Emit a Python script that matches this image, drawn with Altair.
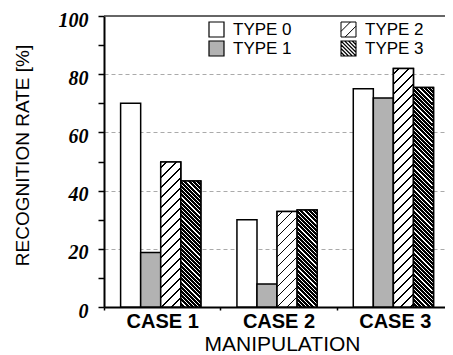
import altair as alt
import pandas as pd

# ---- data ----
cases = ["CASE 1", "CASE 2", "CASE 3"]
types = ["TYPE 0", "TYPE 1", "TYPE 2", "TYPE 3"]
type0 = [70.0, 30.0, 75.0]
type1 = [18.7, 7.9, 71.8]
type2 = [49.8, 32.8, 82.0]
type3 = [43.3, 33.3, 75.4]
y_ticks = [0, 10, 20, 30, 40, 50, 60, 70, 80, 90, 100]
frame_top = [100]

rows = []
for name, vals in zip(types, [type0, type1, type2, type3]):
    for c, v in zip(cases, vals):
        rows.append({"case": c, "type": name, "rate": v})
df = pd.DataFrame(rows)
top_df = pd.DataFrame({"v": frame_top})

# ---- layout / style ----
W, H = 349, 291
BAR_W = 20.0
GRAY = "#b2b2b2"
SYM = 15.0


def stripe_stops(period, lw, span, phase):
    stops = [{"offset": 0, "color": "white"}]
    pos = phase
    while pos < span:
        a = round(max(pos, 0) / span, 5)
        b = round(min((pos + lw) / span, 1.0), 5)
        stops += [{"offset": a, "color": "white"}, {"offset": a, "color": "black"},
                  {"offset": b, "color": "black"}, {"offset": b, "color": "white"}]
        pos += period
    return stops


def hatch(w, h, period, lw, direction, phase=None):
    """linear gradient (bounding-box units) that draws 45-degree stripes"""
    s = w + h
    c = s / (w * w + h * h)
    if phase is None:
        phase = period / 2
    if direction == "/":
        x1, y1, x2, y2 = 0, 0, c * w, c * h
    else:
        x1, y1, x2, y2 = 0, 1, c * w, 1 - c * h
    return {"gradient": "linear", "x1": round(x1, 5), "y1": round(y1, 5),
            "x2": round(x2, 5), "y2": round(y2, 5),
            "stops": stripe_stops(period, lw, s, phase)}


def hatch_symbol(offsets, direction):
    """square symbol path (unit coords) with diagonal hatch strokes"""
    p = "M-1,-1H1V1H-1Z"
    for k in offsets:
        if direction == "/":
            if k <= 0:
                a, b = (-1, k + 1), (k + 1, -1)
            else:
                a, b = (k - 1, 1), (1, k - 1)
        else:
            if k <= 0:
                a, b = (-1, -1 - k), (1 + k, 1)
            else:
                a, b = (k - 1, -1), (1, 1 - k)
        p += "M%.3f,%.3fL%.3f,%.3f" % (a[0], a[1], b[0], b[1])
    return p


SQUARE = "M-1,-1H1V1H-1Z"
SYM2 = hatch_symbol([-0.75, 0.55], "/")
SYM3 = hatch_symbol([-1.5, -1.0, -0.5, 0.0, 0.5, 1.0, 1.5], "\\")

P2, L2 = 10.0, 1.3
P3, L3 = 4.2, 3.0

x_axis = alt.Axis(title="MANIPULATION", labelAngle=0,
                  labelFont="Liberation Sans", labelFontWeight="bold",
                  labelFontSize=20, labelColor="black", labelPadding=1,
                  tickBand="extent", tickSize=3, tickColor="black", tickWidth=1.5,
                  domainColor="black", domainWidth=2,
                  titleFont="Liberation Sans", titleFontWeight="normal",
                  titleFontSize=21, titleColor="black",
                  titleBaseline="alphabetic", titleY=43.5, titleX=178)
y_axis = alt.Axis(title="RECOGNITION RATE [%]", values=y_ticks,
                  labelExpr="datum.value % 20 == 0 ? datum.label : ''",
                  labelFont="Liberation Serif", labelFontStyle="italic",
                  labelFontWeight="bold", labelFontSize=20, labelColor="black",
                  labelPadding=10, labelOffset=4,
                  tickSize=6, tickColor="black", tickWidth=1.5,
                  domainColor="black", domainWidth=2,
                  grid=True, gridDash=[4, 3], gridColor="#aaaaaa", gridWidth=1,
                  gridOpacity={"condition": {"test": "datum.value % 20 == 0 && datum.value > 0 && datum.value < 100", "value": 1}, "value": 0},
                  titleFont="Liberation Sans", titleFontWeight="normal",
                  titleFontSize=19, titleColor="black", titleAngle=270,
                  titleAlign="center", titleBaseline="middle",
                  titleX=-82, titleY=139)

X = alt.X("case:N", sort=cases,
          scale=alt.Scale(domain=cases, paddingInner=0, paddingOuter=0),
          axis=x_axis)
XO = alt.XOffset("type:N", sort=types,
                 scale=alt.Scale(domain=types, paddingOuter=0.9, paddingInner=0, align=0.46))
Y = alt.Y("rate:Q", scale=alt.Scale(domain=[0, 100], nice=False), axis=y_axis)

# legend entries: (fill colour, symbol path, stroke width, legend x, legend y)
legend_style = {
    "TYPE 0": ("white", SQUARE, 1.2, 104, 5),
    "TYPE 1": (GRAY, SQUARE, 1.2, 104, 24),
    "TYPE 2": ("white", SYM2, 1.0, 236, 5),
    "TYPE 3": ("white", SYM3, 1.1, 236, 24),
}

layers = []
for t in types:
    col, path, sw, lx, ly = legend_style[t]
    layers.append(
        alt.Chart(df).transform_filter(alt.datum.type == t)
        .mark_bar(stroke="black", strokeWidth=1.5)
        .encode(x=X, xOffset=XO, y=Y,
                fill=alt.Fill("type:N",
                              scale=alt.Scale(domain=[t], range=[col]),
                              legend=alt.Legend(title=None, orient="none",
                                                legendX=lx, legendY=ly,
                                                symbolType=path, symbolSize=SYM * SYM,
                                                symbolStrokeColor="black",
                                                symbolStrokeWidth=sw,
                                                labelFont="Liberation Sans",
                                                labelFontSize=17, labelColor="black",
                                                labelOffset=8, padding=0))))

for ci, c in enumerate(cases):
    for t, vals, d, p, lw in [("TYPE 2", type2, "/", P2, L2), ("TYPE 3", type3, "\\", P3, L3)]:
        h = vals[ci] / 100.0 * H
        layers.append(
            alt.Chart(df).transform_filter(
                (alt.datum.case == c) & (alt.datum.type == t)
            ).mark_bar(fill=hatch(BAR_W, h, p, lw, d), stroke="black", strokeWidth=1.5)
            .encode(x=X, xOffset=XO, y=Y))

layers.append(
    alt.Chart(top_df).mark_rule(color="#333333", strokeWidth=1.5).encode(
        y=alt.Y("v:Q", scale=alt.Scale(domain=[0, 100], nice=False), axis=y_axis)))

chart = alt.layer(*layers).resolve_scale(fill="independent").resolve_legend(
    fill="independent"
).properties(
    width=W, height=H,
    padding={"left": 96, "top": 8, "right": -8, "bottom": 48},
    autosize=alt.AutoSizeParams(type="none"),
).configure_view(stroke=None)

chart.save("out.html", embed_options={"renderer": "svg", "actions": False})
